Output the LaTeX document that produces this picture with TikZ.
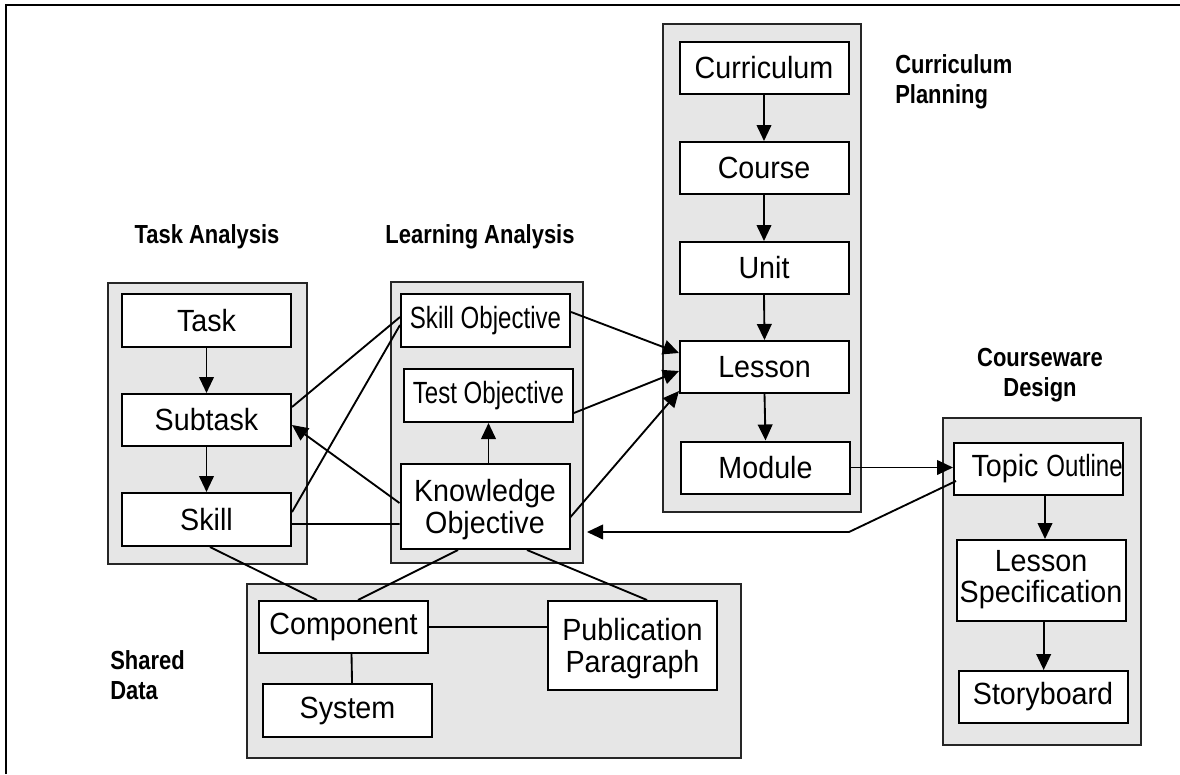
\documentclass[tikz,border=0pt]{standalone}
\usepackage{fontspec}
\setmainfont{Liberation Sans}[FakeStretch=0.935]
\newfontfamily\narrowfont[FakeStretch=0.785]{Liberation Sans}
\newfontfamily\lblfont[FakeStretch=0.84]{Liberation Sans}
\usetikzlibrary{arrows.meta,calc}
\definecolor{grpfill}{RGB}{230,230,230}
\begin{document}
\begin{tikzpicture}[x=0.75pt,y=-0.75pt,
  grp/.style={draw=black!85, fill=grpfill, line width=1.5pt},
  box/.style={draw, fill=white, line width=1.5pt, inner sep=0pt,
    minimum width=126.75pt, minimum height=39pt, align=center,
    font=\fontsize{23}{24.5}\selectfont},
  lbl/.style={font=\lblfont\bfseries\fontsize{19.6}{22.5}\selectfont, inner sep=0pt},
  link/.style={line width=1.4pt},
  arr/.style={line width=1.4pt, -{Triangle[length=12pt,width=11pt]}}]
\useasboundingbox (0,0) rectangle (1180,774);
% frame
\draw[line width=1.6pt] (6,774) -- (6,5) -- (1180,5);
% groups
\draw[grp] (108,283) rectangle (307,564);
\draw[grp] (391,282) rectangle (583,563);
\draw[grp] (663,24) rectangle (861,512);
\draw[grp] (943,418) rectangle (1141,745);
\draw[grp] (247,584) rectangle (741,758);
% labels
\node[lbl, anchor=north] (lblTA) at (207,224) {Task Analysis};
\node[lbl, anchor=north] (lblLA) at (480,224) {Learning Analysis};
\node[lbl, anchor=north west, align=left] (lblCP) at (895,54) {Curriculum\\Planning};
\node[lbl, anchor=north, align=center] (lblCD) at (1040,348) {Courseware\\Design};
\node[lbl, anchor=north west, align=left] (lblSD) at (110,650) {Shared\\Data};
% task analysis
\node[box, minimum height=39.75pt] (task) at (206.5,320.5) {Task};
\node[box] (subtask) at (206.5,420) {Subtask};
\node[box, minimum height=39.75pt] (skill) at (206.5,519.5) {Skill};
% learning analysis
\node[box, minimum height=39.75pt] (skobj) at (485.5,320.5) {\narrowfont Skill Objective};
\node[box, minimum height=39.75pt] (tobj) at (488.5,395.5) {\narrowfont Test Objective};
\node[box, minimum height=63.75pt, text depth=0pt] (kobj) at (485,506.5) {Knowledge\\Objective};
% curriculum planning
\node[box] (curr) at (764,68) {Curriculum};
\node[box] (course) at (764,168) {Course};
\node[box] (unit) at (764,268) {Unit};
\node[box] (lesson) at (764.5,367) {Lesson};
\node[box] (module) at (765.5,467.5) {Module};
% courseware design
\node[box] (topic) at (1038.5,469) {\makebox[0pt]{\hspace*{13pt}Topic {\narrowfont Outline}}};
\node[box, minimum height=60.75pt] (lspec) at (1041,580.5) {\makebox[0pt]{\begin{tabular}{@{}c@{}}Lesson\\[-1pt]Specification\end{tabular}}};
\node[box] (story) at (1043,697) {Storyboard};
% shared data
\node[box] (comp) at (343.5,627) {Component};
\node[box, minimum height=39.75pt] (system) at (347.5,710.5) {System};
\node[box, minimum height=66.75pt, text depth=0pt] (pubpar) at (632.5,645.5) {Publication\\Paragraph};
% vertical arrows
\draw[arr] (task.south) -- (subtask.north);
\draw[arr] (subtask.south) -- (skill.north);
\draw[arr] (curr.south) -- (course.north);
\draw[arr] (course.south) -- (unit.north);
\draw[arr] (unit.south) -- (lesson.north);
\draw[arr] (lesson.south) -- (module.north);
\draw[arr] ([xshift=3pt]lspec.north |- topic.south) -- ([xshift=3pt]lspec.north);
\draw[arr] ([xshift=2pt]lspec.south) -- ([xshift=2pt]lspec.south |- story.north);
\draw[arr] (kobj.north -| tobj.south) -- (tobj.south);
% links between task and learning analysis
\draw[link] ([yshift=9.75pt]subtask.east) -- ([yshift=2.6pt]skobj.west);
\draw[link] ([yshift=5.6pt]skill.east) -- ([yshift=-3.4pt]skobj.west);
\draw[arr] ([yshift=2.6pt]kobj.west) -- ([yshift=-3.75pt]subtask.east);
\draw[link] ([yshift=-3.4pt]skill.east) -- ([yshift=-13.1pt]kobj.west);
% links to shared data
\draw[link] ([xshift=2.6pt]skill.south) -- ([xshift=-19.9pt]comp.north);
\draw[link] ([xshift=-20.25pt]kobj.south) -- ([xshift=10.9pt]comp.north);
\draw[link] ([xshift=31.5pt]kobj.south) -- ([xshift=10.9pt]pubpar.north);
\draw[link] (comp.east) -- (comp.east -| pubpar.west);
\draw[link] ([xshift=6pt]comp.south) -- ([xshift=3.4pt]system.north);
% to lesson
\draw[arr] ([yshift=6.4pt]skobj.east) -- ([yshift=10.5pt]lesson.west);
\draw[arr] ([yshift=-13.1pt]tobj.east) -- ([yshift=-3pt]lesson.west);
\draw[arr] ([yshift=-7.9pt]kobj.east) -- ([yshift=2.25pt]lesson.south west);
% module to topic, topic back to knowledge objective
\draw[arr] (module.east) -- (module.east -| topic.west);
\coordinate (bend) at (849,532);
\coordinate (koin) at (587,532);
\draw[arr] ([xshift=2.25pt,yshift=-9pt]topic.west) -- (bend) -- (koin);
\end{tikzpicture}
\end{document}
